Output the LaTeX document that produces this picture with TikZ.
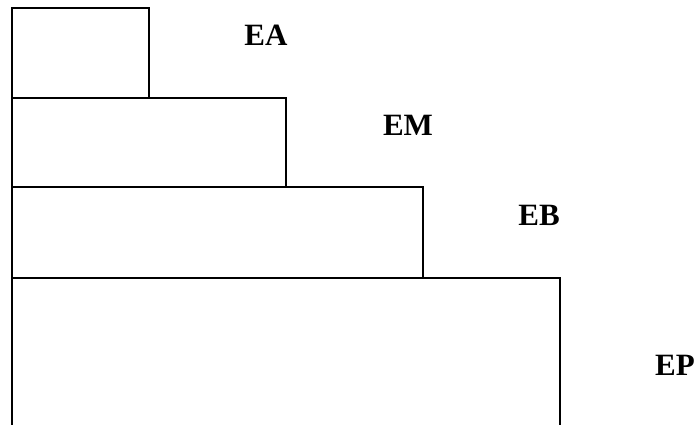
\documentclass[tikz,border=0pt]{standalone}
\usepackage{fontspec}
\setmainfont{Liberation Serif}
\begin{document}
\begin{tikzpicture}[x=1pt,y=-1pt,
  box/.style={draw=black,line width=2pt},
  lab/.style={font=\bfseries\fontsize{31}{34}\selectfont,inner sep=0pt,anchor=center}]
\useasboundingbox (0,0) rectangle (698,425);
\draw[box] (12,8) rectangle (149,98);
\draw[box] (12,98) rectangle (286,187);
\draw[box] (12,187) rectangle (423,278);
\draw[box] (12,430) -- (12,278) -- (560,278) -- (560,430);
\node[lab] (ea) at (266,35) {EA};
\node[lab] (em) at (408,125) {EM};
\node[lab] (eb) at (539,215) {EB};
\node[lab] (ep) at (675,365) {EP};
\end{tikzpicture}
\end{document}
